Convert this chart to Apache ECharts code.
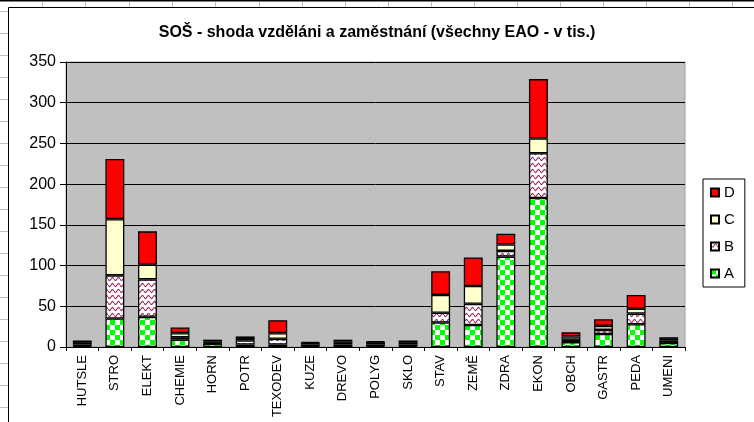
<!DOCTYPE html>
<html>
<head>
<meta charset="utf-8">
<script src="https://cdn.jsdelivr.net/npm/echarts@6/dist/echarts.min.js"></script>
<style>
  html, body { margin: 0; padding: 0; background: #fff; }
  #sos_chart { width: 754px; height: 422px; }
</style>
</head>
<body>
<div id="sos_chart"></div>
<script>
// obory
let obory = ["HUTSLE", "STRO", "ELEKT", "CHEMIE", "HORN", "POTR", "TEXODEV", "KUZE", "DREVO",
  "POLYG", "SKLO", "STAV", "ZEMĚ", "ZDRA", "EKON", "OBCH", "GASTR", "PEDA", "UMENI"];
// hodnoty v tis.
let dataA = [1, 35, 37, 9, 4, 3, 3, 1, 3, 1, 1, 30, 27, 111, 183, 6, 16, 28, 5];
let dataB = [2, 53, 46, 3, 1, 5, 7, 2, 2, 2, 2, 12, 26, 7, 55, 3, 5, 13, 3];
let dataC = [3, 69, 18, 5, 2, 3, 7, 2, 2, 3, 3, 22, 22, 8, 18, 4, 5, 6, 2];
let dataD = [2, 74, 41, 7, 2, 2, 16, 1, 2, 1, 2, 29, 35, 13, 73, 5, 8, 17, 2];
let osaY = [0, 50, 100, 150, 200, 250, 300, 350];

// vzory vyplne (jako v excelu)
function checker() {
  var c = document.createElement("canvas");
  c.width = 10;
  c.height = 10;
  var g = c.getContext("2d");
  g.fillStyle = "#ffffff";
  g.fillRect(0, 0, 10, 10);
  g.fillStyle = "#00ff00";
  g.fillRect(0, 0, 5, 5);
  g.fillRect(5, 5, 5, 5);
  return c;
}
function vlnky() {
  var c = document.createElement("canvas");
  c.width = 6;
  c.height = 6;
  var g = c.getContext("2d");
  g.fillStyle = "#ffffff";
  g.fillRect(0, 0, 6, 6);
  g.strokeStyle = "#993366";
  g.lineWidth = 1.2;
  g.beginPath();
  for (var x = 0; x <= 6; x += 0.5) {
    var y = 3 + 1.5 * Math.sin((2 * Math.PI * x) / 6);
    if (x === 0) g.moveTo(x, y);
    else g.lineTo(x, y);
  }
  g.stroke();
  return c;
}

// pozadi - mrizka listu
let grafika = [];
grafika.push({ type: "line", shape: { x1: 0, y1: 0.5, x2: 754, y2: 0.5 }, style: { stroke: "#000", lineWidth: 2 } });
[42, 85, 129, 172, 215, 259, 302, 345, 388, 431, 474, 517, 560, 603, 646, 689, 732].forEach((x) => {
  grafika.push({ type: "line", shape: { x1: x + 0.5, y1: 2, x2: x + 0.5, y2: 7 }, style: { stroke: "#c0c0c0", lineWidth: 1 } });
});
for (let y = 11; y < 422; y += 22) {
  grafika.push({ type: "line", shape: { x1: 0, y1: y + 0.5, x2: 8, y2: y + 0.5 }, style: { stroke: "#c0c0c0", lineWidth: 1 } });
}
grafika.push({ type: "rect", shape: { x: 8.5, y: 7.5, width: 760, height: 430 }, style: { fill: "none", stroke: "#000", lineWidth: 1 } });

let barvy = {
  A: { image: checker(), repeat: "repeat" },
  B: { image: vlnky(), repeat: "repeat" },
  C: "#ffffcc",
  D: "#ff0000",
};

function serie(name, data) {
  return {
    name: name,
    type: "bar",
    stack: "celkem",
    barWidth: "58%",
    data: data,
    itemStyle: {
      color: barvy[name],
      borderColor: "#000",
      borderWidth: 1.3,
    },
  };
}

let chart = echarts.init(document.getElementById("sos_chart"));
let option = {
  animation: false,
  textStyle: { fontFamily: "Liberation Sans, Arial, sans-serif" },
  graphic: grafika,
  title: {
    text: "SOŠ - shoda vzděláni a zaměstnání (všechny EAO - v tis.)",
    left: "center",
    top: 20,
    textStyle: { fontSize: 16, fontWeight: "bold", color: "#000" },
  },
  legend: {
    data: ["D", "C", "B", "A"],
    icon: "rect",
    orient: "vertical",
    left: 703,
    top: 179,
    padding: [6, 10, 6, 7],
    itemGap: 12,
    itemWidth: 8,
    itemHeight: 8,
    itemTextGap: 2,
    borderColor: "#000",
    borderWidth: 1,
    backgroundColor: "#fff",
    textStyle: { fontSize: 15, color: "#000" },
  },
  grid: {
    left: 66,
    right: 69,
    top: 62,
    bottom: 75,
    show: true,
    backgroundColor: "#c0c0c0",
    borderColor: "#a0a0a0",
    borderWidth: 1,
  },
  xAxis: {
    type: "category",
    data: obory,
    axisLine: { lineStyle: { color: "#000" } },
    axisTick: { show: true, length: 4, interval: 0, lineStyle: { color: "#000" } },
    axisLabel: { rotate: 90, interval: 0, margin: 8, fontSize: 13, color: "#000" },
  },
  yAxis: {
    type: "value",
    min: osaY[0],
    max: osaY[osaY.length - 1],
    interval: 50,
    axisLine: { show: true, lineStyle: { color: "#000" } },
    axisTick: { show: true, length: 6, lineStyle: { color: "#000" } },
    axisLabel: { fontSize: 16, color: "#000", margin: 10 },
    splitLine: { show: true, lineStyle: { color: "#000", width: 1 } },
  },
  series: [serie("A", dataA), serie("B", dataB), serie("C", dataC), serie("D", dataD)],
};
chart.setOption(option, true);
</script>
</body>
</html>
